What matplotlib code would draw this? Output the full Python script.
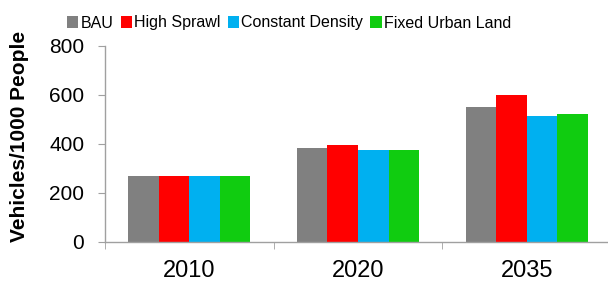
import matplotlib
matplotlib.use("Agg")
import matplotlib.pyplot as plt
import numpy as np
from matplotlib.patches import Patch

plt.rcParams['font.family'] = ['Liberation Sans', 'DejaVu Sans']

years = ["2010", "2020", "2035"]
series = ["BAU", "High Sprawl", "Constant Density", "Fixed Urban Land"]
bau = [270, 382, 552]
high_sprawl = [270, 393, 601]
constant_density = [270, 374, 513]
fixed_urban_land = [270, 374, 521]
colors = ["#808080", "#FF0000", "#00B0F0", "#10CC10"]

values = [bau, high_sprawl, constant_density, fixed_urban_land]

W, H = 608, 282
fig = plt.figure(figsize=(W / 100, H / 100), dpi=100)
ax = fig.add_axes([105 / W, 40.5 / H, (611 - 105) / W, 195.5 / H])

x = np.arange(len(years))
bw = 0.181
for i, (vals, c) in enumerate(zip(values, colors)):
    ax.bar(x + (i - 1.5) * bw, vals, width=bw, color=c, edgecolor='none', label=series[i])

ax.set_xlim(-0.5, 2.5)
ax.set_ylim(0, 800)
ax.set_yticks([0, 200, 400, 600, 800])
ax.set_xticks(x)
ax.set_xticklabels(years, fontsize=17)
ax.set_xticks([-0.5, 0.5, 1.5, 2.5], minor=True)
ax.tick_params(axis='x', which='major', length=0, pad=13)
ax.tick_params(axis='x', which='minor', length=5, color='#A0A0A0', direction='out')
ax.tick_params(axis='y', labelsize=15, length=5, color='#A0A0A0', pad=10)

for s in ['top', 'right']:
    ax.spines[s].set_visible(False)
for s in ['left', 'bottom']:
    ax.spines[s].set_color('#A0A0A0')
    ax.spines[s].set_linewidth(1)

fig.text(20 / W, 1 - 136.5 / H, "Vehicles/1000 People", rotation=90, fontsize=15,
         fontweight='bold', ha='center', va='center')

handles = [Patch(facecolor=c, edgecolor='none') for c in colors]
fig.legend(handles, series, loc='center left', bbox_to_anchor=(67 / W, 1 - 23 / H),
           ncol=4, frameon=False, fontsize=11.5, handlelength=0.7, handleheight=0.7,
           handletextpad=0.15, columnspacing=0.45, borderaxespad=0, borderpad=0)

fig.savefig("out.png", dpi=100)
